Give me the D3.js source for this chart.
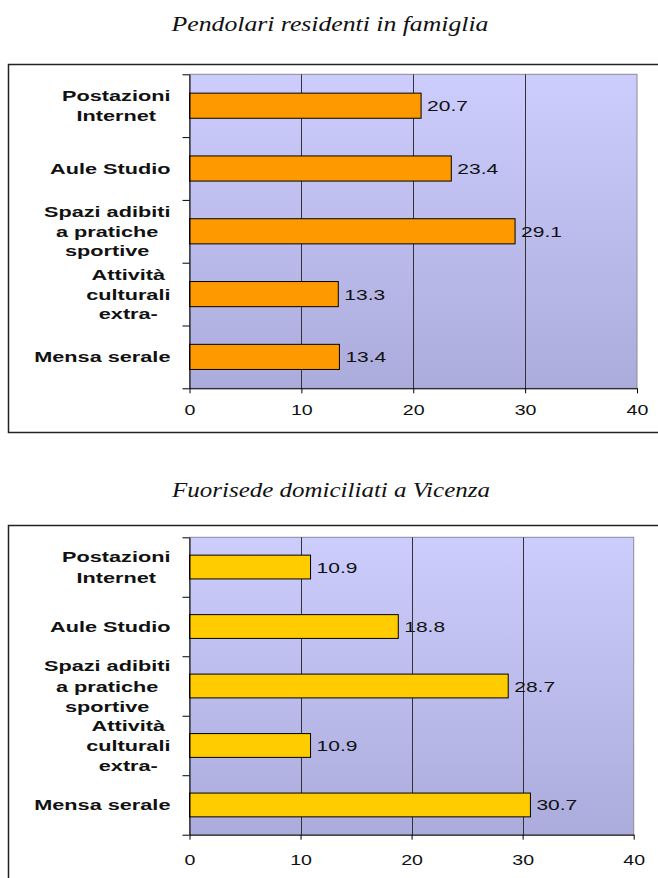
<!DOCTYPE html>
<html>
<head>
<meta charset="utf-8">
<script src="https://cdn.jsdelivr.net/npm/d3@7"></script>
<style>
  html, body { margin: 0; padding: 0; background: #ffffff; }
  svg { display: block; }
</style>
</head>
<body>
<svg id="chart" width="658" height="878"></svg>
<script>
// ---- data ----
const categories = ["Postazioni Internet", "Aule Studio", "Spazi adibiti a pratiche sportive", "Attività culturali extra-", "Mensa serale"];
const categoryLines = [["Postazioni", "Internet"], ["Aule Studio"], ["Spazi adibiti", "a pratiche", "sportive"], ["Attività", "culturali", "extra-"], ["Mensa serale"]];
const pendolariValues = [20.7, 23.4, 29.1, 13.3, 13.4];
const fuorisedeValues = [10.9, 18.8, 28.7, 10.9, 30.7];
const xTicks = [0, 10, 20, 30, 40];
const titleTop = "Pendolari residenti in famiglia";
const titleBottom = "Fuorisede domiciliati a Vicenza";

// ---- layout ----
const svg = d3.select("#chart");
const SX = 1.4; // horizontal stretch of chart text

const defs = svg.append("defs");
const grad = defs.append("linearGradient").attr("id", "bg").attr("x1", 0).attr("y1", 0).attr("x2", 0).attr("y2", 1);
grad.append("stop").attr("offset", "0%").attr("stop-color", "#cdcdfd");
grad.append("stop").attr("offset", "100%").attr("stop-color", "#acacdc");

const panels = [
  { title: titleTop, values: pendolariValues, color: "#ff9900", titleY: 30.5, titleW: 317, titleCx: 330,
    box: { x: 8.5, y: 64.5, w: 720, h: 368 },
    plot: { left: 189.5, right: 637, top: 74.3, bottom: 388.3 }, tickLabelY: 27, lineH: 19.5 },
  { title: titleBottom, values: fuorisedeValues, color: "#ffcc00", titleY: 497, titleW: 318, titleCx: 331,
    box: { x: 8.5, y: 525.5, w: 720, h: 400 },
    plot: { left: 189.5, right: 633.7, top: 537.3, bottom: 834.7 }, tickLabelY: 30, lineH: 20.2 }
];

panels.forEach(p => {
  // title
  const t = svg.append("text")
    .attr("font-family", "'Liberation Serif', 'Times New Roman', serif")
    .attr("font-style", "italic")
    .attr("font-size", 21)
    .attr("fill", "#111")
    .attr("text-anchor", "middle")
    .text(p.title);
  const tw = t.node().getComputedTextLength();
  t.attr("transform", `translate(${p.titleCx},${p.titleY}) scale(${p.titleW / tw},1)`);

  // outer box
  svg.append("rect")
    .attr("x", p.box.x).attr("y", p.box.y).attr("width", p.box.w).attr("height", p.box.h)
    .attr("fill", "none").attr("stroke", "#222").attr("stroke-width", 1.5);

  const x = d3.scaleLinear().domain([0, 40]).range([p.plot.left, p.plot.right]);
  const y = d3.scaleBand().domain(categories).range([p.plot.top, p.plot.bottom]).paddingInner(0.6).paddingOuter(0.3);
  const yb = d3.scaleLinear().domain([0, categories.length]).range([p.plot.top, p.plot.bottom]);

  // plot background
  svg.append("rect")
    .attr("x", x(0)).attr("y", p.plot.top)
    .attr("width", x(40) - x(0)).attr("height", p.plot.bottom - p.plot.top)
    .attr("fill", "url(#bg)").attr("stroke", "#8a8a9a").attr("stroke-width", 1);

  // gridlines
  svg.append("g").selectAll("line").data(xTicks.filter(v => v > 0 && v < 40)).join("line")
    .attr("x1", d => Math.round(x(d)) + 0.5).attr("x2", d => Math.round(x(d)) + 0.5)
    .attr("y1", p.plot.top).attr("y2", p.plot.bottom)
    .attr("stroke", "#333").attr("stroke-width", 1);

  // bars
  svg.append("g").selectAll("rect").data(p.values).join("rect")
    .attr("x", x(0))
    .attr("y", (d, i) => y(categories[i]))
    .attr("width", d => x(d) - x(0))
    .attr("height", y.bandwidth())
    .attr("fill", p.color)
    .attr("stroke", "#000").attr("stroke-width", 1);

  // value labels
  svg.append("g").selectAll("text").data(p.values).join("text")
    .attr("font-family", "'Liberation Sans', Arial, sans-serif")
    .attr("font-size", 15)
    .attr("fill", "#111")
    .attr("transform", (d, i) => `translate(${x(d) + 6},${y(categories[i]) + y.bandwidth() / 2 + 5.5}) scale(${SX},1)`)
    .text(d => d.toFixed(1));

  // x axis
  const xa = svg.append("g")
    .attr("transform", `translate(0,${p.plot.bottom})`)
    .call(d3.axisBottom(x).tickValues(xTicks).tickSize(5).tickSizeOuter(0).tickFormat(d3.format("d")));
  xa.select(".domain").attr("stroke", "#000");
  xa.selectAll(".tick line").attr("stroke", "#000");
  xa.selectAll(".tick text")
    .attr("font-family", "'Liberation Sans', Arial, sans-serif")
    .attr("font-size", 14)
    .attr("fill", "#111")
    .attr("y", p.tickLabelY).attr("dy", 0)
    .attr("transform", `scale(${SX},1)`);

  // y axis (ticks at band boundaries)
  const ya = svg.append("g")
    .attr("transform", `translate(${p.plot.left},0)`)
    .call(d3.axisLeft(yb).tickValues(d3.range(categories.length + 1)).tickSize(7).tickSizeOuter(0).tickFormat(""));
  ya.select(".domain").attr("stroke", "#000");
  ya.selectAll(".tick line").attr("stroke", "#000");

  // category labels
  categories.forEach((c, i) => {
    const lines = categoryLines[i];
    const cy = y(c) + y.bandwidth() / 2;
    const g = svg.append("g");
    const texts = lines.map((ln, k) => g.append("text")
      .attr("font-family", "'Liberation Sans', Arial, sans-serif")
      .attr("font-weight", "bold")
      .attr("font-size", 15.5)
      .attr("fill", "#111")
      .attr("text-anchor", "middle")
      .attr("y", (k - (lines.length - 1) / 2) * p.lineH + 5.5)
      .text(ln));
    const maxW = d3.max(texts, t => t.node().getComputedTextLength()) * SX;
    g.attr("transform", `translate(${170.5 - maxW / 2},${cy}) scale(${SX},1)`);
  });
});
</script>
</body>
</html>
